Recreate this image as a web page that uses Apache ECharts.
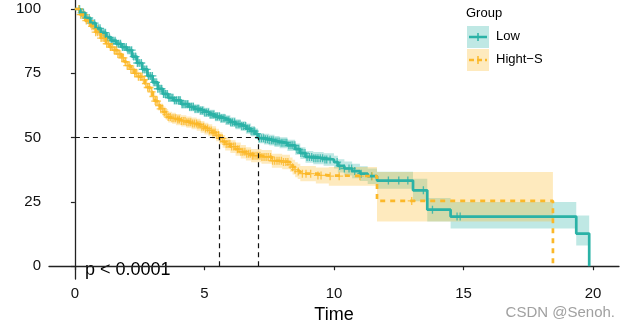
<!DOCTYPE html>
<html><head><meta charset="utf-8">
<script src="https://cdn.jsdelivr.net/npm/echarts@6/dist/echarts.min.js"></script>
<style>html,body{margin:0;padding:0;background:#fff}#c{width:628px;height:329px}</style>
</head><body><div id="c"></div>
<script>
// ---- data ----
const xTicks = [0, 5, 10, 15, 20];
const yTicks = [0, 25, 50, 75, 100];

const lowTime  = [0,0.2,0.4,0.6,0.8,1.0,1.2,1.4,1.6,1.8, 2.0,2.2,2.4,2.6,2.8,3.0,3.2,3.4,3.6,3.8, 4.1,4.4,4.6,4.8,5.0,5.2,5.4,5.6,5.8,6.0, 6.2,6.4,6.6,6.8,6.95,7.07,7.3,7.5,7.7,7.9, 8.2,8.5,8.7,8.9,9.2,9.6,10.0,10.15,10.4,10.7, 11.0,11.3,11.66,13.05,13.6,14.5,19.35,19.85];
const lowSurv  = [100,98.5,96.5,94.5,92.5,90.8,89,87.7,86.5,85.2, 84,81.5,79,76.5,74,71.5,69,67,65.5,64.5, 63,62,61.2,60.5,59.8,59,58.2,57.5,56.8,56, 55.2,54.5,53.5,52.5,51.5,49.8,49.4,49,48.5,48, 47,45.5,44,42.5,42,41.5,40.5,39,38,37, 36,35,33.3,29.5,22,19.3,12.7,0];
const lowUpper = [100,99.1,97.3,95.4,93.4,91.8,90,88.8,87.6,86.4, 85.2,82.8,80.3,77.9,75.4,73,70.5,68.5,67.1,66.1, 64.6,63.7,62.9,62.2,61.6,60.8,60,59.3,58.7,57.9, 57.1,56.4,55.5,54.5,53.5,51.8,51.5,51.1,50.6,50.1, 49.2,47.7,46.3,44.8,44.4,43.9,43,41.6,40.7,39.8, 38.9,38,36.7,34,26.5,25,19.7,0];
const lowLower = [100,97.9,95.7,93.6,91.6,89.8,88,86.6,85.4,84, 82.8,80.2,77.7,75.1,72.6,70,67.5,65.5,63.9,62.9, 61.4,60.3,59.5,58.8,58,57.2,56.4,55.7,54.9,54.1, 53.3,52.6,51.5,50.5,49.5,47.8,47.3,46.9,46.4,45.9, 44.8,43.3,41.7,40.2,39.6,39.1,38,36.4,35.3,34.2, 33.1,32,30.1,25.3,17.4,14.7,8.1,0];
const lowCensor = [0.18,0.26,0.33,0.41,0.47,0.55,0.61,0.69,0.76,0.83,0.9,0.97,1.04,1.12,1.18,1.26,1.33,1.4,1.47,1.55,1.62,1.69,1.76,1.84,1.9,1.98,2.05,2.12,2.19,2.27,2.34,2.41,2.48,2.56,2.62,2.7,2.77,2.84,2.91,2.99,3.06,3.13,3.2,3.28,3.34,3.42,3.49,3.56,3.63,3.71,3.78,3.85,3.92,4.0,4.06,4.14,4.21,4.28,4.35,4.43,4.5,4.57,4.64,4.72,4.78,4.86,4.93,5.0,5.07,5.15,5.22,5.29,5.36,5.44,5.5,5.58,5.65,5.72,5.79,5.87,5.94,6.01,6.08,6.16,6.22,6.3,6.37,6.44,6.51,6.59,6.66,6.73,6.8,6.88,6.94,7.02,7.12,7.2,7.28,7.35,7.43,7.5,7.58,7.65,7.73,7.8,7.88,7.96,8.03,8.11,8.18,8.26,8.34,8.41,8.49,8.57,8.64,8.72,8.8,8.88,8.96,9.05,9.14,9.22,9.3,9.38,9.47,9.56,9.65,9.72,9.85,10.12,10.22,10.4,10.58,10.68,10.8,11.05,11.45,12.1,12.5,12.85,13.45,13.8,14.75,14.87];

const highTime  = [0,0.2,0.4,0.6,0.8,1.0,1.2,1.35,1.5,1.65, 1.8,1.9,2.0,2.15,2.3,2.45,2.6,2.7,2.8,2.9, 3.0,3.1,3.2,3.3,3.4,3.5,3.6,3.75,3.9,4.1, 4.3,4.5,4.7,4.85,5.0,5.15,5.3,5.45,5.56,5.7, 5.8,6.0,6.2,6.4,6.6,6.8,7.2,7.6,8.0,8.3, 8.4,8.5,8.6,8.7,9.3,9.8,11.66,18.45];
const highSurv  = [100,97.8,95.5,93.3,91,88.7,86.5,85.2,84,82.5, 81,79.5,78,76.5,75,73.7,72.5,71,69.5,67.8, 66,64.2,62.5,61.2,60,59,58,57.5,57,56.5, 56,55.5,55,54.2,53.5,52.8,52,51,49.7,48.5, 47.5,46.5,45.5,44.5,43.7,43,42.5,41,40.5,39.5, 38.5,37.5,36.8,36,35.3,35,25.4,0];
const highUpper = [100,98.4,96.4,94.3,92.1,89.9,87.8,86.6,85.4,84, 82.5,81.1,79.6,78.2,76.7,75.5,74.3,72.9,71.4,69.8, 68,66.2,64.5,63.3,62.1,61.1,60.1,59.7,59.2,58.7, 58.2,57.8,57.3,56.5,55.8,55.2,54.4,53.4,52.1,51, 50,49,48.1,47.1,46.3,45.6,45.2,43.7,43.3,42.3, 41.4,40.4,39.8,39,38.4,38.6,36.6,0];
const highLower = [100,97.2,94.6,92.3,89.9,87.5,85.2,83.9,82.6,81.1, 79.5,78,76.4,74.9,73.3,72,70.7,69.2,67.6,65.9, 64,62.2,60.5,59.2,57.9,56.9,55.9,55.4,54.8,54.3, 53.8,53.3,52.7,51.9,51.2,50.5,49.6,48.6,47.3,46.1, 45,44,43,41.9,41.1,40.4,39.8,38.3,37.7,36.7, 35.7,34.6,33.9,33,32.2,31.3,17.4,0];
const highCensor = [0.15,0.22,0.3,0.37,0.44,0.52,0.58,0.66,0.73,0.8,0.87,0.94,1.01,1.09,1.15,1.23,1.3,1.37,1.44,1.52,1.59,1.66,1.73,1.81,1.87,1.95,2.02,2.09,2.16,2.24,2.31,2.38,2.45,2.53,2.59,2.67,2.74,2.81,2.88,2.96,3.03,3.1,3.17,3.25,3.31,3.39,3.46,3.53,3.6,3.68,3.75,3.82,3.89,3.97,4.03,4.11,4.18,4.25,4.32,4.4,4.47,4.54,4.61,4.69,4.75,4.83,4.9,4.97,5.04,5.12,5.19,5.26,5.33,5.41,5.47,5.55,5.62,5.69,5.76,5.84,5.91,5.98,6.05,6.13,6.19,6.27,6.34,6.41,6.48,6.56,6.63,6.7,6.77,6.85,6.91,6.99,7.06,7.14,7.22,7.3,7.38,7.46,7.55,7.63,7.71,7.8,7.88,7.97,8.05,8.14,8.22,8.31,8.4,8.5,8.62,8.78,8.92,9.1,9.38,9.5,9.85,10.2,11.0,11.47,13.0];

const medians = [5.56, 7.07];
const medianLevel = 50;
const groups = ['Low', 'Hight\u2212S'];
const pText = 'p < 0.0001';

// ---- styling ----
const TEAL = '#2ab2a6', ORANGE = '#fbb829';
const TEAL_A = 'rgba(42,178,166,0.3)', ORANGE_A = 'rgba(251,184,41,0.3)';
const FONT = 'Liberation Sans, Arial, sans-serif';
const PLUS = 'path://M-1,-6H1V-1H6V1H1V6H-1V1H-6V-1H-1Z';

function pairs(t, v) { return t.map((x, i) => [x, v[i]]); }
function stepAt(t, s, x) { let k = 0; for (let i = 0; i < t.length; i++) if (t[i] <= x) k = i; return s[k]; }
function censorPts(t, s, c) { return c.map(x => [x, stepAt(t, s, x)]); }

// confidence ribbon as a stepped polygon, positioned through the axis scales
function bandSeries(t, lo, up, fill) {
  return {
    type: 'custom', data: [[t[0], up[0]]], silent: true, clip: true,
    renderItem: function (params, api) {
      const top = [], bot = [];
      for (let i = 0; i < t.length - 1; i++) {
        top.push(api.coord([t[i], up[i]]), api.coord([t[i + 1], up[i]]));
        bot.push(api.coord([t[i], lo[i]]), api.coord([t[i + 1], lo[i]]));
      }
      return { type: 'polygon', shape: { points: top.concat(bot.reverse()) }, style: { fill: fill } };
    }
  };
}

const chart = echarts.init(document.getElementById('c'), null, { renderer: 'canvas' });
const medianLines = [
  [{ coord: [0, medianLevel] }, { coord: [Math.max(...medians), medianLevel] }],
  ...medians.map(m => [{ coord: [m, 0] }, { coord: [m, medianLevel] }])
];

chart.setOption({
  animation: false,
  grid: { left: 49, right: 9, top: 0, bottom: 48 },
  xAxis: {
    type: 'value', min: -1, max: 21,
    name: 'Time', nameLocation: 'middle', nameGap: 25,
    nameTextStyle: { fontFamily: FONT, fontSize: 18, color: '#000' },
    axisLine: { lineStyle: { color: '#222', width: 1.3 } },
    axisTick: { show: true, length: 4, lineStyle: { color: '#222', width: 1.2 }, customValues: xTicks },
    axisLabel: { customValues: xTicks, fontFamily: FONT, fontSize: 15, color: '#111', margin: 7 },
    splitLine: { show: false }
  },
  yAxis: {
    type: 'value', min: -5, max: 103.5,
    axisLine: { show: true, lineStyle: { color: '#222', width: 1.3 } },
    axisTick: { show: true, length: 4, lineStyle: { color: '#222', width: 1.2 }, customValues: yTicks },
    axisLabel: { customValues: yTicks, fontFamily: FONT, fontSize: 15, color: '#111', margin: 8 },
    splitLine: { show: false }
  },
  series: [
    { name: groups[0], type: 'line', step: 'end', data: pairs(lowTime, lowSurv), symbol: 'none', lineStyle: { color: TEAL, width: 2.7 } },
    { name: groups[1], type: 'line', step: 'end', data: pairs(highTime, highSurv), symbol: 'none', lineStyle: { color: ORANGE, width: 2.7, type: [5, 5] } },
    bandSeries(lowTime, lowLower, lowUpper, TEAL_A),
    bandSeries(highTime, highLower, highUpper, ORANGE_A),
    { type: 'scatter', data: censorPts(lowTime, lowSurv, lowCensor), symbol: PLUS, symbolSize: [8, 8], itemStyle: { color: TEAL }, silent: true },
    { type: 'scatter', data: censorPts(highTime, highSurv, highCensor), symbol: PLUS, symbolSize: [8, 8], itemStyle: { color: ORANGE }, silent: true },
    { type: 'line', data: [], markLine: { silent: true, symbol: 'none', label: { show: false },
        lineStyle: { color: '#111', width: 1.2, type: [5, 4] }, data: medianLines } }
  ],
  graphic: [
    { type: 'text', left: 85, top: 261, style: { text: pText, font: '18px ' + FONT, fill: '#000' } },
    { type: 'text', left: 466, top: 7, style: { text: 'Group', font: '13px ' + FONT, fill: '#000' } },
    { type: 'rect', shape: { x: 467, y: 26, width: 22, height: 22 }, style: { fill: TEAL_A } },
    { type: 'line', shape: { x1: 469, y1: 37, x2: 487, y2: 37 }, style: { stroke: TEAL, lineWidth: 2.5 } },
    { type: 'line', shape: { x1: 478, y1: 33, x2: 478, y2: 41 }, style: { stroke: TEAL, lineWidth: 1.5 } },
    { type: 'text', left: 496, top: 30, style: { text: groups[0], font: '13px ' + FONT, fill: '#000' } },
    { type: 'rect', shape: { x: 467, y: 49, width: 22, height: 22 }, style: { fill: ORANGE_A } },
    { type: 'line', shape: { x1: 469, y1: 60, x2: 487, y2: 60 }, style: { stroke: ORANGE, lineWidth: 2.5, lineDash: [5, 3] } },
    { type: 'line', shape: { x1: 478, y1: 56, x2: 478, y2: 64 }, style: { stroke: ORANGE, lineWidth: 1.5 } },
    { type: 'text', left: 496, top: 53, style: { text: groups[1], font: '13px ' + FONT, fill: '#000' } },
    { type: 'text', right: 13, top: 305, style: { text: 'CSDN @Senoh.', font: '15px ' + FONT, fill: '#a0a0a0' } }
  ]
});
</script></body></html>
